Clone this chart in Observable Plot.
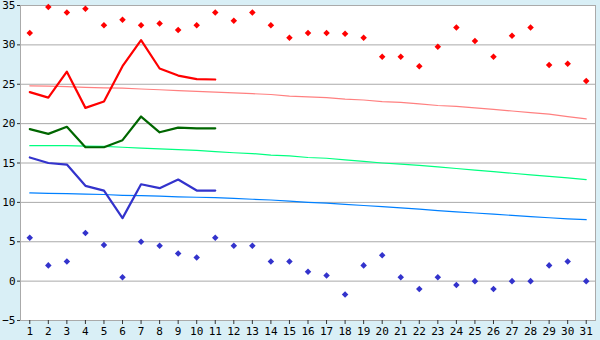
<!DOCTYPE html>
<html>
<head>
<meta charset="utf-8">
<script src="https://cdn.jsdelivr.net/npm/d3@7"></script>
<script src="https://cdn.jsdelivr.net/npm/@observablehq/plot@0.6"></script>
<style>
  html, body { margin: 0; padding: 0; background: #d9eff6; }
  #chart svg { display: block; overflow: visible; }
</style>
</head>
<body>
<div id="chart"></div>
<script>
const days = [1,2,3,4,5,6,7,8,9,10,11,12,13,14,15,16,17,18,19,20,21,22,23,24,25,26,27,28,29,30,31];
const dailyMax = [31.5,34.8,34.1,34.6,32.5,33.2,32.5,32.7,31.9,32.5,34.1,33.05,34.1,32.5,30.9,31.5,31.5,31.4,30.9,28.5,28.5,27.3,29.75,32.2,30.5,28.5,31.15,32.2,27.45,27.6,25.4];
const dailyMin = [5.5,2.0,2.5,6.1,4.6,0.5,5.0,4.5,3.5,3.0,5.5,4.5,4.5,2.5,2.5,1.2,0.7,-1.7,2.0,3.3,0.5,-1.0,0.5,-0.5,0,-1.0,0,0,2.0,2.5,0];
const obsDays = [1,2,3,4,5,6,7,8,9,10,11];
const obsMax = [24.0,23.3,26.6,22.0,22.8,27.3,30.6,27.0,26.1,25.65,25.6];
const obsMean = [19.3,18.7,19.6,17.0,17.0,17.9,20.9,18.9,19.5,19.4,19.4];
const obsMin = [15.7,15.0,14.8,12.1,11.5,8.0,12.3,11.8,12.9,11.5,11.5];
const normMax = [24.8,24.75,24.7,24.6,24.55,24.5,24.4,24.3,24.2,24.1,24.0,23.9,23.8,23.7,23.5,23.4,23.3,23.1,23.0,22.8,22.7,22.5,22.3,22.2,22.0,21.8,21.6,21.4,21.2,20.9,20.6];
const normMean = [17.2,17.2,17.2,17.15,17.1,17.0,16.9,16.8,16.7,16.6,16.45,16.3,16.2,16.0,15.9,15.7,15.6,15.4,15.2,15.0,14.85,14.7,14.5,14.3,14.1,13.9,13.7,13.5,13.3,13.1,12.9];
const normMin = [11.2,11.15,11.1,11.05,11.0,10.9,10.85,10.8,10.7,10.65,10.6,10.5,10.4,10.3,10.15,10.0,9.9,9.75,9.6,9.45,9.3,9.15,8.95,8.8,8.65,8.5,8.35,8.2,8.05,7.9,7.8];
const yTicks = [-5,0,5,10,15,20,25,30,35];

const full = days.map((d,i) => ({d, max: dailyMax[i], min: dailyMin[i], nmax: normMax[i], nmean: normMean[i], nmin: normMin[i]}));
const obs = obsDays.map((d,i) => ({d, max: obsMax[i], mean: obsMean[i], min: obsMin[i]}));

const chart = Plot.plot({
  width: 600,
  height: 340,
  marginLeft: 20,
  marginRight: 5,
  marginTop: 5,
  marginBottom: 20,
  style: {background: "#d9eff6", fontFamily: "DejaVu Sans Mono", fontSize: "11px", color: "#000", overflow: "visible"},
  x: {domain: [0.5, 31.5]},
  y: {domain: [-5, 35]},
  marks: [
    Plot.frame({fill: "white"}),
    Plot.gridY(yTicks, {stroke: "#aaa", strokeOpacity: 1}),
    Plot.frame({stroke: "#aaa"}),
    Plot.axisY(yTicks, {tickSize: 3, tickPadding: 2, label: null, stroke: "#333"}),
    Plot.axisX(days, {tickSize: 4, tickPadding: 3, label: null, stroke: "#333"}),
    Plot.line(full, {x: "d", y: "nmax", stroke: "#ff8080", strokeWidth: 1.2}),
    Plot.line(full, {x: "d", y: "nmean", stroke: "#00ff80", strokeWidth: 1.2}),
    Plot.line(full, {x: "d", y: "nmin", stroke: "#0080ff", strokeWidth: 1.2}),
    Plot.line(obs, {x: "d", y: "max", stroke: "#ff0000", strokeWidth: 2.2}),
    Plot.line(obs, {x: "d", y: "mean", stroke: "#006600", strokeWidth: 2.2}),
    Plot.line(obs, {x: "d", y: "min", stroke: "#3333cc", strokeWidth: 2.2}),
    Plot.dot(full, {x: "d", y: "max", symbol: "square", rotate: 45, r: 2.6, fill: "#ff0000"}),
    Plot.dot(full, {x: "d", y: "min", symbol: "square", rotate: 45, r: 2.6, fill: "#3333cc"})
  ]
});
document.getElementById("chart").appendChild(chart);
</script>
</body>
</html>
